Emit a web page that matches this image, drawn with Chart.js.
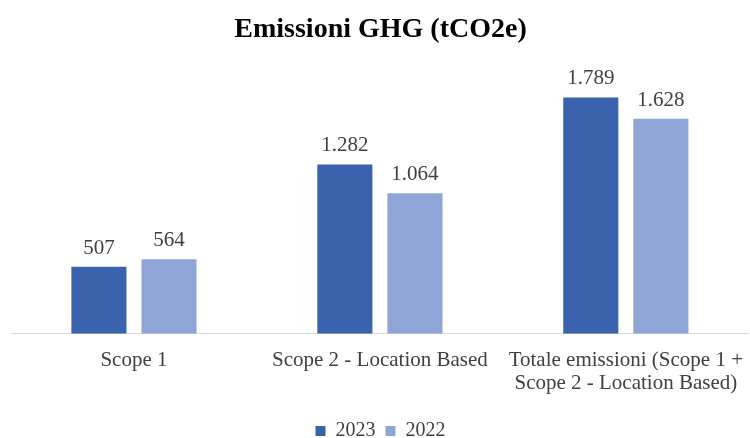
<!DOCTYPE html>
<html>
<head>
<meta charset="utf-8">
<script src="https://cdn.jsdelivr.net/npm/chart.js@4"></script>
<style>
  body { margin: 0; background: #fff; }
  #wrap { width: 750px; height: 438px; }
</style>
</head>
<body>
<div id="wrap"><canvas id="ghg" width="750" height="438"></canvas></div>
<script>
const categories = [
  'Scope 1',
  'Scope 2 - Location Based',
  ['Totale emissioni (Scope 1 +', 'Scope 2 - Location Based)']
]
const values2023 = [507, 1282, 1789]
const values2022 = [564, 1064, 1628]

const fmt = new Intl.NumberFormat('it-IT')
const serif = "'Liberation Serif', 'DejaVu Serif', serif"

// labels above the bars
const barLabels = {
  id: 'barLabels',
  afterDatasetsDraw(chart) {
    const ctx = chart.ctx
    ctx.save()
    ctx.font = '21px ' + serif
    ctx.fillStyle = '#404040'
    ctx.textAlign = 'center'
    ctx.textBaseline = 'bottom'
    chart.data.datasets.forEach((ds, i) => {
      chart.getDatasetMeta(i).data.forEach((bar, j) => {
        ctx.fillText(fmt.format(ds.data[j]), bar.x, bar.y - 8)
      })
    })
    ctx.restore()
  }
}

new Chart(document.getElementById('ghg'), {
  type: 'bar',
  data: {
    labels: categories,
    datasets: [
      { label: '2023', data: values2023, backgroundColor: '#3B62AC' },
      { label: '2022', data: values2022, backgroundColor: '#8FA5D6' }
    ]
  },
  options: {
    responsive: false,
    animation: false,
    categoryPercentage: 0.57,
    barPercentage: 0.786,
    layout: { padding: { left: 11, right: 0, top: 8, bottom: -13 } },
    plugins: {
      title: {
        display: true,
        text: 'Emissioni GHG (tCO2e)',
        color: '#000',
        font: { family: serif, size: 28, weight: 'bold' },
        padding: { top: 5, bottom: 23 }
      },
      legend: {
        position: 'bottom',
        labels: {
          color: '#404040',
          font: { family: serif, size: 20, lineHeight: 1 },
          boxWidth: 10,
          boxHeight: 10,
          padding: 10
        }
      },
      tooltip: { enabled: false }
    },
    scales: {
      x: {
        grid: { display: false },
        border: { display: true, color: '#d9d9d9' },
        ticks: { color: '#404040', font: { family: serif, size: 21, lineHeight: 1.1 }, padding: 7 },
        afterFit(scale) { scale.height += 9 }
      },
      y: {
        display: false,
        min: 0,
        max: 2000
      }
    }
  },
  plugins: [barLabels]
})
</script>
</body>
</html>
